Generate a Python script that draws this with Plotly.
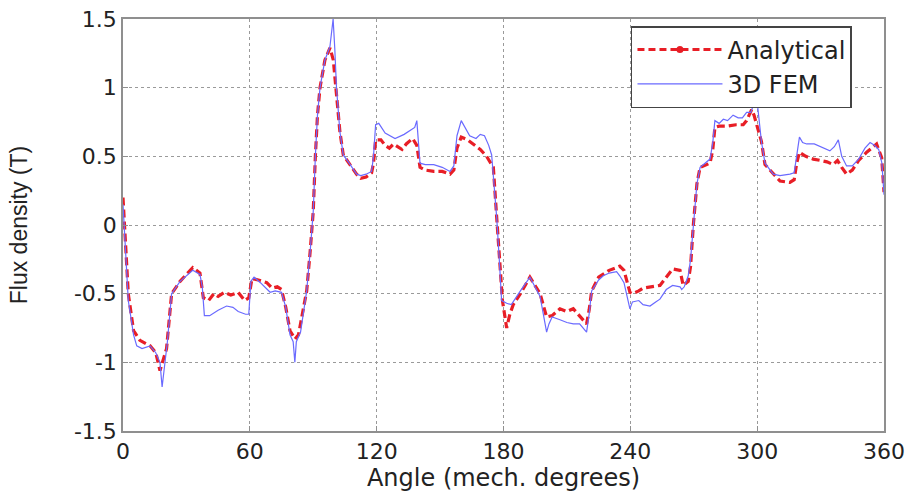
import plotly.graph_objects as go

angle_analytical = [0, 1, 2.5, 5, 8, 12.8, 15.5, 17.5, 20.6, 23, 27, 33, 36.4, 38, 40.5, 43, 45, 48, 51, 54.5, 57.6, 59.5,
                    61, 64, 68, 70.6, 73, 75, 77, 79, 81.4, 83, 86.9, 88.5, 90, 91, 92, 93.2, 95.5, 97.9, 99.5, 101, 102.6,
                    104.2, 107, 110.5, 112.5, 115, 117.6, 118.5, 119.5, 122, 124, 126, 128, 130, 132, 134, 137, 139, 140.5,
                    143, 147, 151, 154.7, 156.5, 158, 160, 163, 165.6, 169, 172, 175.2, 176.8, 178, 179.5, 181.5, 183,
                    184.6, 188, 192.5, 197.3, 200.4, 203, 206.7, 210, 213, 216, 219.3, 220.5, 221.7, 225, 227.2, 230,
                    233.5, 235, 237, 239.8, 241, 244, 246, 250, 254, 257, 260, 263.5, 265, 267.4, 268.5, 269.8, 271.5,
                    273, 277.7, 279, 280, 282, 285.6, 290, 293.4, 295, 297.4, 298.5, 300, 302, 303.7, 307.6, 310.8, 315.5,
                    317.5, 318.7, 320, 323, 326.5, 330, 333, 336, 338, 340, 342.3, 345, 348, 351.8, 356.5, 358.9, 360]
flux_analytical = [0.20, -0.05, -0.5, -0.77, -0.84, -0.88, -0.93, -1.06, -0.9, -0.50, -0.41, -0.31, -0.35, -0.53, -0.55,
                   -0.50, -0.52, -0.49, -0.51, -0.49, -0.55, -0.53, -0.39, -0.40, -0.42, -0.46, -0.45, -0.47, -0.6, -0.77,
                   -0.83, -0.80, -0.48, -0.2, 0.1, 0.5, 0.8, 1.0, 1.2, 1.29, 1.2, 0.95, 0.68, 0.51, 0.45, 0.37, 0.34,
                   0.35, 0.38, 0.45, 0.62, 0.62, 0.58, 0.56, 0.59, 0.57, 0.55, 0.59, 0.63, 0.58, 0.42, 0.40, 0.39, 0.39,
                   0.37, 0.40, 0.56, 0.64, 0.62, 0.59, 0.55, 0.50, 0.42, 0.05, -0.25, -0.55, -0.75, -0.65, -0.58, -0.50,
                   -0.38, -0.50, -0.67, -0.66, -0.61, -0.63, -0.61, -0.66, -0.72, -0.62, -0.48, -0.38, -0.36, -0.33,
                   -0.31, -0.30, -0.33, -0.49, -0.50, -0.48, -0.46, -0.45, -0.44, -0.38, -0.32, -0.33, -0.44, -0.41,
                   -0.30, 0.0, 0.30, 0.42, 0.45, 0.55, 0.71, 0.72, 0.72, 0.73, 0.73, 0.76, 0.84, 0.80, 0.72, 0.61, 0.44,
                   0.37, 0.32, 0.31, 0.33, 0.45, 0.53, 0.50, 0.48, 0.47, 0.46, 0.44, 0.47, 0.42, 0.37, 0.40, 0.47, 0.53,
                   0.59, 0.49, 0.24]

angle_fem = [0, 1, 2.5, 5, 6.5, 9, 12.8, 15.5, 17.5, 18.5, 19.5, 21, 23, 27, 33, 36.4, 37.5, 38.5, 41, 45, 49, 52, 54.5,
             58, 59.5, 60.5, 62, 65, 69.6, 72, 75, 77, 79, 80.5, 81.3, 82, 84, 86.9, 88.5, 90, 91, 92, 93.2, 95.5, 97.9,
             99.4, 100.2, 101, 102.6, 104.2, 107, 110.5, 112.5, 115, 117.6, 118.5, 119.5, 121, 124, 128.7, 133, 136,
             138, 139, 140.5, 143, 147, 151, 154.7, 156.5, 158, 160, 162, 164, 167, 169, 171, 173, 174.4, 176.8, 178,
             179.1, 181.5, 183.7, 188, 192.5, 197.3, 200.4, 201.5, 203, 206.7, 210, 213, 216, 219.3, 220.5, 221.7, 225,
             227.2, 230, 233.5, 235, 237, 239.8, 241, 244, 246, 249.3, 252, 254, 257, 260, 263.5, 264.3, 265.5, 267.4,
             268.5, 269.8, 271.5, 273, 277.7, 279, 280, 282, 284, 286, 288.6, 291, 293, 295, 297, 299.7, 301, 302,
             303.7, 307.6, 310.8, 315.5, 317.5, 318.7, 320, 321.5, 323.4, 327, 331, 334.4, 336.5, 338.4, 340, 342.3,
             345, 348, 351, 353.4, 355.5, 357.5, 359, 360]
flux_fem = [0.15, -0.1, -0.55, -0.80, -0.88, -0.90, -0.88, -0.93, -1.0, -1.18, -1.05, -0.85, -0.50, -0.41, -0.33, -0.36,
            -0.45, -0.66, -0.66, -0.62, -0.59, -0.60, -0.63, -0.65, -0.65, -0.41, -0.38, -0.42, -0.49, -0.48, -0.49,
            -0.6, -0.80, -0.85, -1.0, -0.85, -0.78, -0.48, -0.2, 0.1, 0.5, 0.8, 1.0, 1.2, 1.3, 1.5, 1.28, 1.0, 0.68,
            0.51, 0.45, 0.37, 0.36, 0.37, 0.39, 0.50, 0.73, 0.74, 0.67, 0.63, 0.66, 0.69, 0.71, 0.76, 0.45, 0.44, 0.44,
            0.42, 0.39, 0.43, 0.65, 0.76, 0.70, 0.65, 0.63, 0.66, 0.65, 0.58, 0.51, 0.05, -0.25, -0.55, -0.57, -0.58,
            -0.48, -0.38, -0.52, -0.78, -0.72, -0.67, -0.69, -0.71, -0.72, -0.72, -0.78, -0.65, -0.48, -0.40, -0.37,
            -0.35, -0.34, -0.37, -0.42, -0.61, -0.56, -0.55, -0.58, -0.59, -0.56, -0.54, -0.47, -0.44, -0.45, -0.47,
            -0.45, -0.37, -0.25, 0.0, 0.30, 0.42, 0.48, 0.60, 0.76, 0.74, 0.77, 0.76, 0.80, 0.78, 0.78, 0.82, 0.82,
            0.94, 0.75, 0.61, 0.45, 0.37, 0.36, 0.37, 0.38, 0.50, 0.64, 0.60, 0.59, 0.59, 0.56, 0.54, 0.57, 0.62, 0.50,
            0.43, 0.43, 0.48, 0.56, 0.60, 0.58, 0.55, 0.45, 0.22]

x_ticks = [0, 60, 120, 180, 240, 300, 360]
y_ticks = [-1.5, -1, -0.5, 0, 0.5, 1, 1.5]
y_tick_text = ["-1.5", "-1", "-0.5", "0", "0.5", "1", "1.5"]

FONT = "Liberation Sans, Arial, sans-serif"
WIDE = "DejaVu Sans, Liberation Sans, sans-serif"
TXT = "#222222"
RED = "#e81e26"
BLUE = "#6a6aff"

fig = go.Figure()
fig.add_trace(go.Scatter(
    x=angle_analytical, y=flux_analytical, name="Analytical", mode="lines",
    line=dict(color=RED, width=3.2, dash="8px,4px"),
    legendgroup="an", showlegend=False,
))
# legend entry (line with dot marker) for the analytical series
fig.add_trace(go.Scatter(
    x=[None], y=[None], name="Analytical", mode="lines+markers",
    line=dict(color=RED, width=3, dash="7px,4px"),
    marker=dict(color=RED, size=7),
    legendgroup="an", showlegend=True,
))
fig.add_trace(go.Scatter(
    x=angle_fem, y=flux_fem, name="3D FEM", mode="lines",
    line=dict(color=BLUE, width=1.2),
))

axis_common = dict(
    showline=True, linecolor="#8f8f8f", linewidth=1.5, mirror=True,
    ticks="inside", ticklen=5, tickcolor="#8f8f8f",
    showgrid=True, gridcolor="#9a9a9a", gridwidth=1, griddash="dot",
    zeroline=False, automargin=False, ticklabeloverflow="allow",
    tickfont=dict(family=WIDE, size=22, color=TXT),
)

fig.update_layout(
    width=919, height=492,
    margin=dict(l=123, r=35, t=19, b=61),
    paper_bgcolor="white", plot_bgcolor="white",
    font=dict(family=FONT, color=TXT),
    xaxis=dict(range=[0, 360], tickvals=x_ticks, ticktext=[str(v) for v in x_ticks],
               title=dict(text="Angle (mech. degrees)", font=dict(family=WIDE, size=24, color=TXT), standoff=3),
               **axis_common),
    yaxis=dict(range=[-1.5, 1.5], tickvals=y_ticks, ticktext=y_tick_text,
               title=dict(text="Flux density (T)", font=dict(family=FONT, size=23, color=TXT), standoff=40),
               **axis_common),
    showlegend=True,
    legend=dict(x=0.6675, y=0.983, xanchor="left", yanchor="top",
                bgcolor="white", bordercolor="#444444", borderwidth=1.5,
                font=dict(family=WIDE, size=24, color=TXT),
                tracegroupgap=0, itemwidth=85),
)

fig.write_html("out.html", config={"displayModeBar": False},
               post_script="document.body.style.margin='0px';")
